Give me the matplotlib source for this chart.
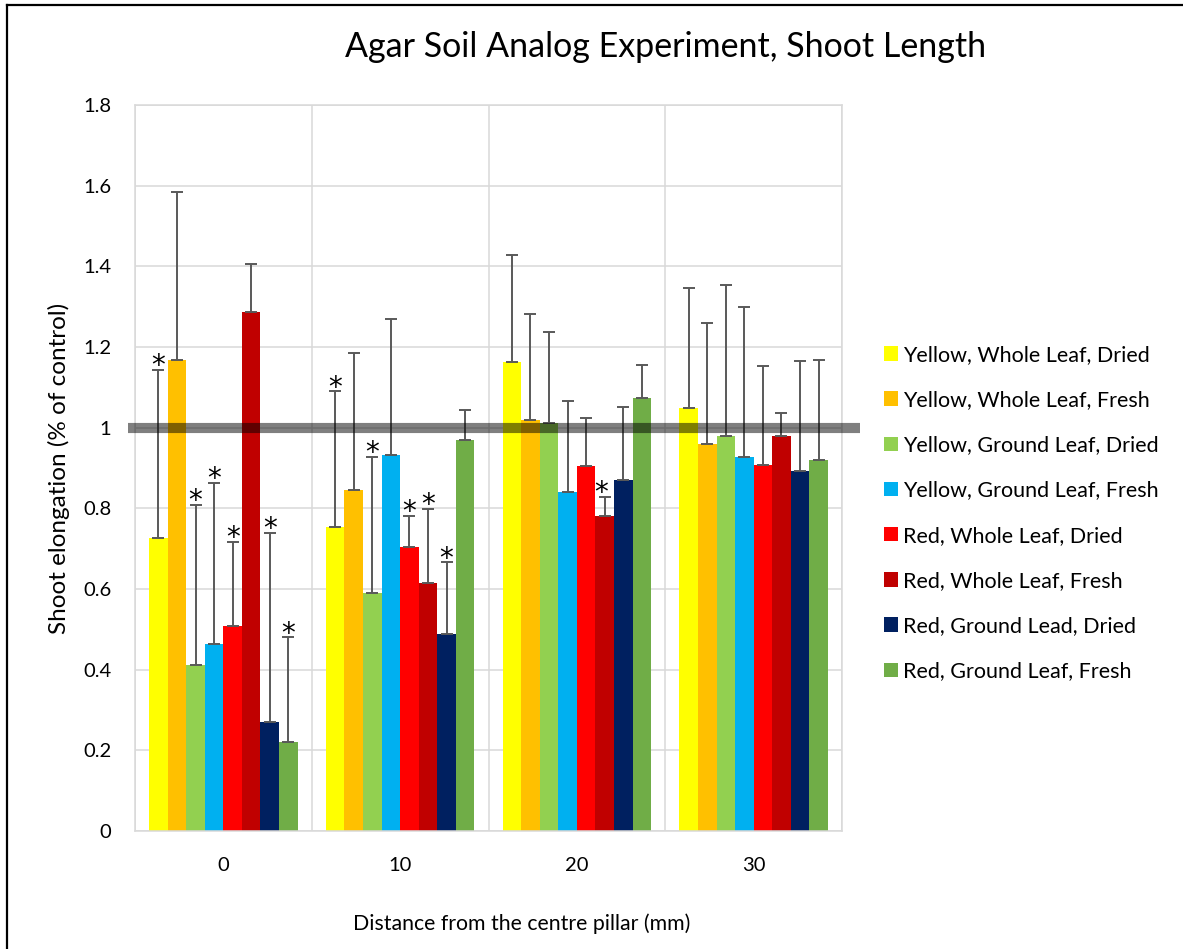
import numpy as np
import matplotlib
matplotlib.use("Agg")
import matplotlib.pyplot as plt
from matplotlib.lines import Line2D
from matplotlib.patches import Patch

plt.rcParams['font.family'] = ['Lato', 'DejaVu Sans']

# --- data ---
distances = ['0', '10', '20', '30']
series = [
    'Yellow, Whole Leaf, Dried',
    'Yellow, Whole Leaf, Fresh',
    'Yellow, Ground Leaf, Dried',
    'Yellow, Ground Leaf, Fresh',
    'Red, Whole Leaf, Dried',
    'Red, Whole Leaf, Fresh',
    'Red, Ground Lead, Dried',
    'Red, Ground Leaf, Fresh',
]
colors = ['#FFFF00', '#FFC000', '#92D050', '#00B0F0',
          '#FF0000', '#C00000', '#002060', '#70AD47']

# mean shoot elongation per series, one value per distance
means = [
    [0.726, 0.753, 1.163, 1.049],
    [1.167, 0.846, 1.018, 0.960],
    [0.412, 0.589, 1.012, 0.979],
    [0.464, 0.931, 0.841, 0.927],
    [0.508, 0.704, 0.905, 0.907],
    [1.287, 0.615, 0.781, 0.979],
    [0.270, 0.489, 0.870, 0.893],
    [0.220, 0.969, 1.073, 0.921],
]
# top of the (plus only) error bar
err_tops = [
    [1.143, 1.090, 1.427, 1.347],
    [1.585, 1.184, 1.283, 1.259],
    [0.808, 0.928, 1.238, 1.354],
    [0.862, 1.269, 1.067, 1.300],
    [0.716, 0.782, 1.023, 1.154],
    [1.406, 0.798, 0.829, 1.037],
    [0.740, 0.666, 1.052, 1.166],
    [0.480, 1.045, 1.155, 1.168],
]
# significance markers (*)
signif = [
    [1, 1, 0, 0],
    [0, 0, 0, 0],
    [1, 1, 0, 0],
    [1, 0, 0, 0],
    [1, 1, 0, 0],
    [0, 1, 1, 0],
    [1, 1, 0, 0],
    [1, 0, 0, 0],
]
control_level = 1.0

W, H = 1183, 949
fig = plt.figure(figsize=(W / 100, H / 100), dpi=100)
ax = fig.add_axes([135 / W, 1 - 831 / H, (842 - 135) / W, (831 - 105) / H])

x = np.arange(len(distances))
bw = 0.105
for i, name in enumerate(series):
    pos = x + (i - 3.5) * bw
    vals = np.array(means[i])
    plus = np.array(err_tops[i]) - vals
    ax.bar(pos, vals, width=bw, color=colors[i], label=name, zorder=2)
    ax.errorbar(pos, vals, yerr=[np.zeros_like(plus), plus], fmt='none',
                ecolor='#595959', elinewidth=1.4, capsize=4.5, capthick=1.4,
                zorder=3)
    for j in range(len(distances)):
        if signif[i][j]:
            dx = -0.02 if (i == 5 and j == 2) else 0
            ax.annotate('*', (pos[j] + dx, err_tops[i][j]), xytext=(0, -3),
                        textcoords='offset points', ha='center', va='baseline',
                        fontsize=20, color='black', family='DejaVu Sans',
                        zorder=4)

# control reference line, runs a little past the plot area
ax.plot([-0.54, 3.60], [control_level, control_level], color='black',
        alpha=0.5, lw=7.3, solid_capstyle='butt', clip_on=False, zorder=5)

ax.set_xlim(-0.5, 3.5)
ax.set_ylim(0, 1.8)
ax.set_yticks(np.arange(0, 1.81, 0.2))
ax.set_yticklabels(['0', '0.2', '0.4', '0.6', '0.8', '1', '1.2', '1.4', '1.6', '1.8'])
ax.set_xticks(x)
ax.set_xticklabels(distances)
ax.tick_params(axis='both', length=0, labelsize=14.5, colors='black')
ax.tick_params(axis='y', pad=17)
ax.tick_params(axis='x', pad=19)

ax.set_xticks(np.arange(-0.5, 3.6, 1), minor=True)
ax.tick_params(axis='x', which='minor', length=0)
ax.grid(axis='y', which='major', color='#D9D9D9', lw=1.1, zorder=0)
ax.grid(axis='x', which='minor', color='#D9D9D9', lw=1.1, zorder=0)
ax.grid(axis='x', which='major', visible=False)
ax.set_axisbelow(True)
for s in ax.spines.values():
    s.set_color('#D9D9D9')
    s.set_linewidth(1.1)

fig.text(666 / W, 1 - 57 / H, 'Agar Soil Analog Experiment, Shoot Length',
         ha='center', va='baseline', fontsize=24.5)
fig.text(522 / W, 1 - 930 / H, 'Distance from the centre pillar (mm)',
         ha='center', va='baseline', fontsize=15.3)
fig.text(59 / W, 1 - 468 / H, 'Shoot elongation (% of control)',
         ha='center', va='center', rotation=90, fontsize=17.5)

handles = [Patch(facecolor=c, edgecolor='none') for c in colors]
fig.legend(handles, series, loc='upper left', bbox_to_anchor=(884 / W, 1 - 345 / H),
           frameon=False, fontsize=15.5, handlelength=0.65, handleheight=0.65,
           handletextpad=0.25, labelspacing=1.17, borderaxespad=0, borderpad=0)

# partial frame visible around the chart
fig.add_artist(Line2D([7 / W, 7 / W], [0, 1 - 5 / H], color='black', lw=1.6))
fig.add_artist(Line2D([7 / W, 1], [1 - 5 / H, 1 - 5 / H], color='black', lw=1.6))

fig.savefig('out.png', dpi=100)
